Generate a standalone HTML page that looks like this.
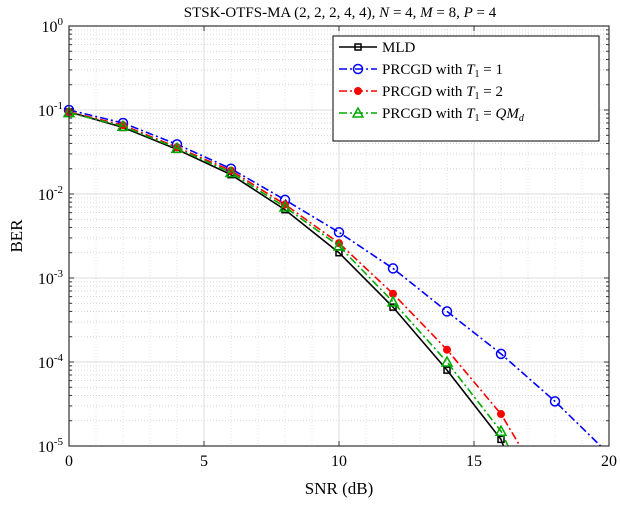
<!DOCTYPE html>
<html><head><meta charset="utf-8"><style>
html,body{margin:0;padding:0;background:#fff;overflow:hidden;width:620px;height:506px;}
svg{font-family:"Liberation Serif",serif;display:block;overflow:hidden;}
</style></head><body>
<svg id="chart" width="620" height="506" viewBox="0 0 620 506" xmlns="http://www.w3.org/2000/svg">
<text x="340" y="17" font-size="15" text-anchor="middle">STSK-OTFS-MA (2, 2, 2, 4, 4), <tspan font-style="italic">N</tspan> = 4, <tspan font-style="italic">M</tspan> = 8, <tspan font-style="italic">P</tspan> = 4</text>
<g id="grid"></g>
<g id="series"></g>
<g id="axes"></g>
<text x="339" y="494" font-size="17" text-anchor="middle">SNR (dB)</text>
<text x="22" y="236" font-size="17" text-anchor="middle" transform="rotate(-90 22 236)">BER</text>
<g id="legend"></g>
</svg>
<script>
const snr = [0,2,4,6,8,10,12,14,16,18,20];
const berMLD = [0.095,0.062,0.034,0.017,0.0065,0.002,0.00045,0.00008,0.000012,0.0000002];
const berT1 = [0.1,0.07,0.039,0.02,0.0085,0.0035,0.0013,0.0004,0.000125,0.000034,0.000008];
const berT2 = [0.095,0.066,0.036,0.019,0.0075,0.0026,0.00065,0.00014,0.000024,0.000002];
const berQM = [0.093,0.064,0.035,0.018,0.007,0.0024,0.00052,0.0001,0.000015,0.0000007];
const xTicks = [0,5,10,15,20];
const yExps = [0,-1,-2,-3,-4,-5];
const L=69,R=609,T=26,B=446;
const xs=v=>L+(v-0)/20*(R-L);
const ys=v=>T+(-Math.log10(v))/5*(B-T);
const NS="http://www.w3.org/2000/svg";
function mk(p,tag,attrs){const e=document.createElementNS(NS,tag);for(const k in attrs)e.setAttribute(k,attrs[k]);p.appendChild(e);return e;}
const grid=document.getElementById('grid'),axes=document.getElementById('axes'),ser=document.getElementById('series'),leg=document.getElementById('legend');
mk(grid,'rect',{x:L,y:T,width:R-L,height:B-T,fill:'#fff'});
for(let d=0;d<5;d++){for(let m=2;m<=9;m++){const y=ys(Math.pow(10,-d-1)*m);
 const l=mk(grid,'line',{x1:L,x2:R,y1:y,y2:y,stroke:'#ccc','stroke-width':0.8,'stroke-dasharray':'1 2'});
 }}
for(let x=1;x<20;x++){if(x%5===0)continue;const l=mk(grid,'line',{x1:xs(x),x2:xs(x),y1:T,y2:B,stroke:'#ddd','stroke-width':0.8,'stroke-dasharray':'1 2'});
 }
xTicks.forEach(t=>{const x=xs(t);const l=mk(grid,'line',{x1:x,x2:x,y1:T,y2:B,stroke:'#dcdcdc','stroke-width':1});
 
 mk(axes,'line',{x1:x,x2:x,y1:B,y2:B-5,stroke:'#333'});mk(axes,'line',{x1:x,x2:x,y1:T,y2:T+5,stroke:'#333'});
 const tx=mk(axes,'text',{x:x,y:B+20,'font-size':16,'text-anchor':'middle'});tx.textContent=t;
 });
yExps.forEach(e=>{const y=ys(Math.pow(10,e));const l=mk(grid,'line',{x1:L,x2:R,y1:y,y2:y,stroke:'#dcdcdc','stroke-width':1});
 
 mk(axes,'line',{x1:L,x2:L+5,y1:y,y2:y,stroke:'#333'});mk(axes,'line',{x1:R,x2:R-5,y1:y,y2:y,stroke:'#333'});
 const tx=mk(axes,'text',{x:L-6,y:y+6,'font-size':16,'text-anchor':'end'});
 tx.innerHTML='10<tspan dy="-7" font-size="11">'+e+'</tspan>';
 });
for(let d=0;d<5;d++){for(let m=2;m<=9;m++){const y=ys(Math.pow(10,-d-1)*m);mk(axes,'line',{x1:L,x2:L+3,y1:y,y2:y,stroke:'#333'});mk(axes,'line',{x1:R,x2:R-3,y1:y,y2:y,stroke:'#333'});}}
const fr=mk(axes,'rect',{x:L,y:T,width:R-L,height:B-T,fill:'none',stroke:'#333','stroke-width':1.2});

function marker(g,type,x,y,c){
 if(type==='sq')return mk(g,'rect',{x:x-3,y:y-3,width:6,height:6,fill:'none',stroke:c,'stroke-width':1.5});
 if(type==='o')return mk(g,'circle',{cx:x,cy:y,r:4.5,fill:'none',stroke:c,'stroke-width':1.5});
 if(type==='*')return mk(g,'circle',{cx:x,cy:y,r:3.5,fill:c,stroke:c,'stroke-width':1});
 if(type==='tri')return mk(g,'path',{d:`M${x},${y-5}L${x+5},${y+4}L${x-5},${y+4}Z`,fill:'none',stroke:c,'stroke-width':1.5});
}
const seriesDefs=[
 {name:'series-mld',vals:berMLD,c:'#000',dash:'',m:'sq'},
 {name:'series-prcgd-t1-1',vals:berT1,c:'#0000ff',dash:'8 3 2 3',m:'o'},
 {name:'series-prcgd-t1-2',vals:berT2,c:'#ff0000',dash:'8 3 2 3',m:'*'},
 {name:'series-prcgd-t1-qmd',vals:berQM,c:'#00aa00',dash:'8 3 2 3',m:'tri'}];
seriesDefs.forEach(s=>{const g=mk(ser,'g',{});
 
 const raw=s.vals.map((v,i)=>[xs(snr[i]),ys(v)]);
 const pts=[];
 for(let i=0;i<raw.length;i++){
  const p=raw[i];
  if(p[1]<=B){pts.push(p);continue;}
  if(i>0){const q=raw[i-1];const t=(B-q[1])/(p[1]-q[1]);pts.push([q[0]+t*(p[0]-q[0]),B]);}
  break;
 }
 mk(g,'polyline',{points:pts.map(p=>p[0]+','+p[1]).join(' '),fill:'none',stroke:s.c,'stroke-width':1.6,'stroke-dasharray':s.dash});
 s.vals.forEach((v,i)=>{if(v>=1e-5){const mm=marker(g,s.m,xs(snr[i]),ys(v),s.c);
  }});});
const lb=mk(leg,'rect',{x:333,y:36,width:266,height:105,fill:'#fff',stroke:'#000','stroke-width':1});

const labels=['MLD','PRCGD with <tspan font-style="italic">T</tspan><tspan font-size="10" dy="3">1</tspan><tspan dy="-3"> = 1</tspan>','PRCGD with <tspan font-style="italic">T</tspan><tspan font-size="10" dy="3">1</tspan><tspan dy="-3"> = 2</tspan>','PRCGD with <tspan font-style="italic">T</tspan><tspan font-size="10" dy="3">1</tspan><tspan dy="-3"> = <tspan font-style="italic">QM</tspan></tspan><tspan font-size="10" dy="3" font-style="italic">d</tspan>'];
seriesDefs.forEach((s,i)=>{const y=47+i*22;const g=mk(leg,'g',{});
 
 mk(g,'line',{x1:339,x2:377,y1:y,y2:y,stroke:s.c,'stroke-width':1.6,'stroke-dasharray':s.dash});
 marker(g,s.m,358,y,s.c);
 const t=mk(g,'text',{x:382,y:y+5,'font-size':15});t.innerHTML=labels[i];});
</script>
</body></html>
